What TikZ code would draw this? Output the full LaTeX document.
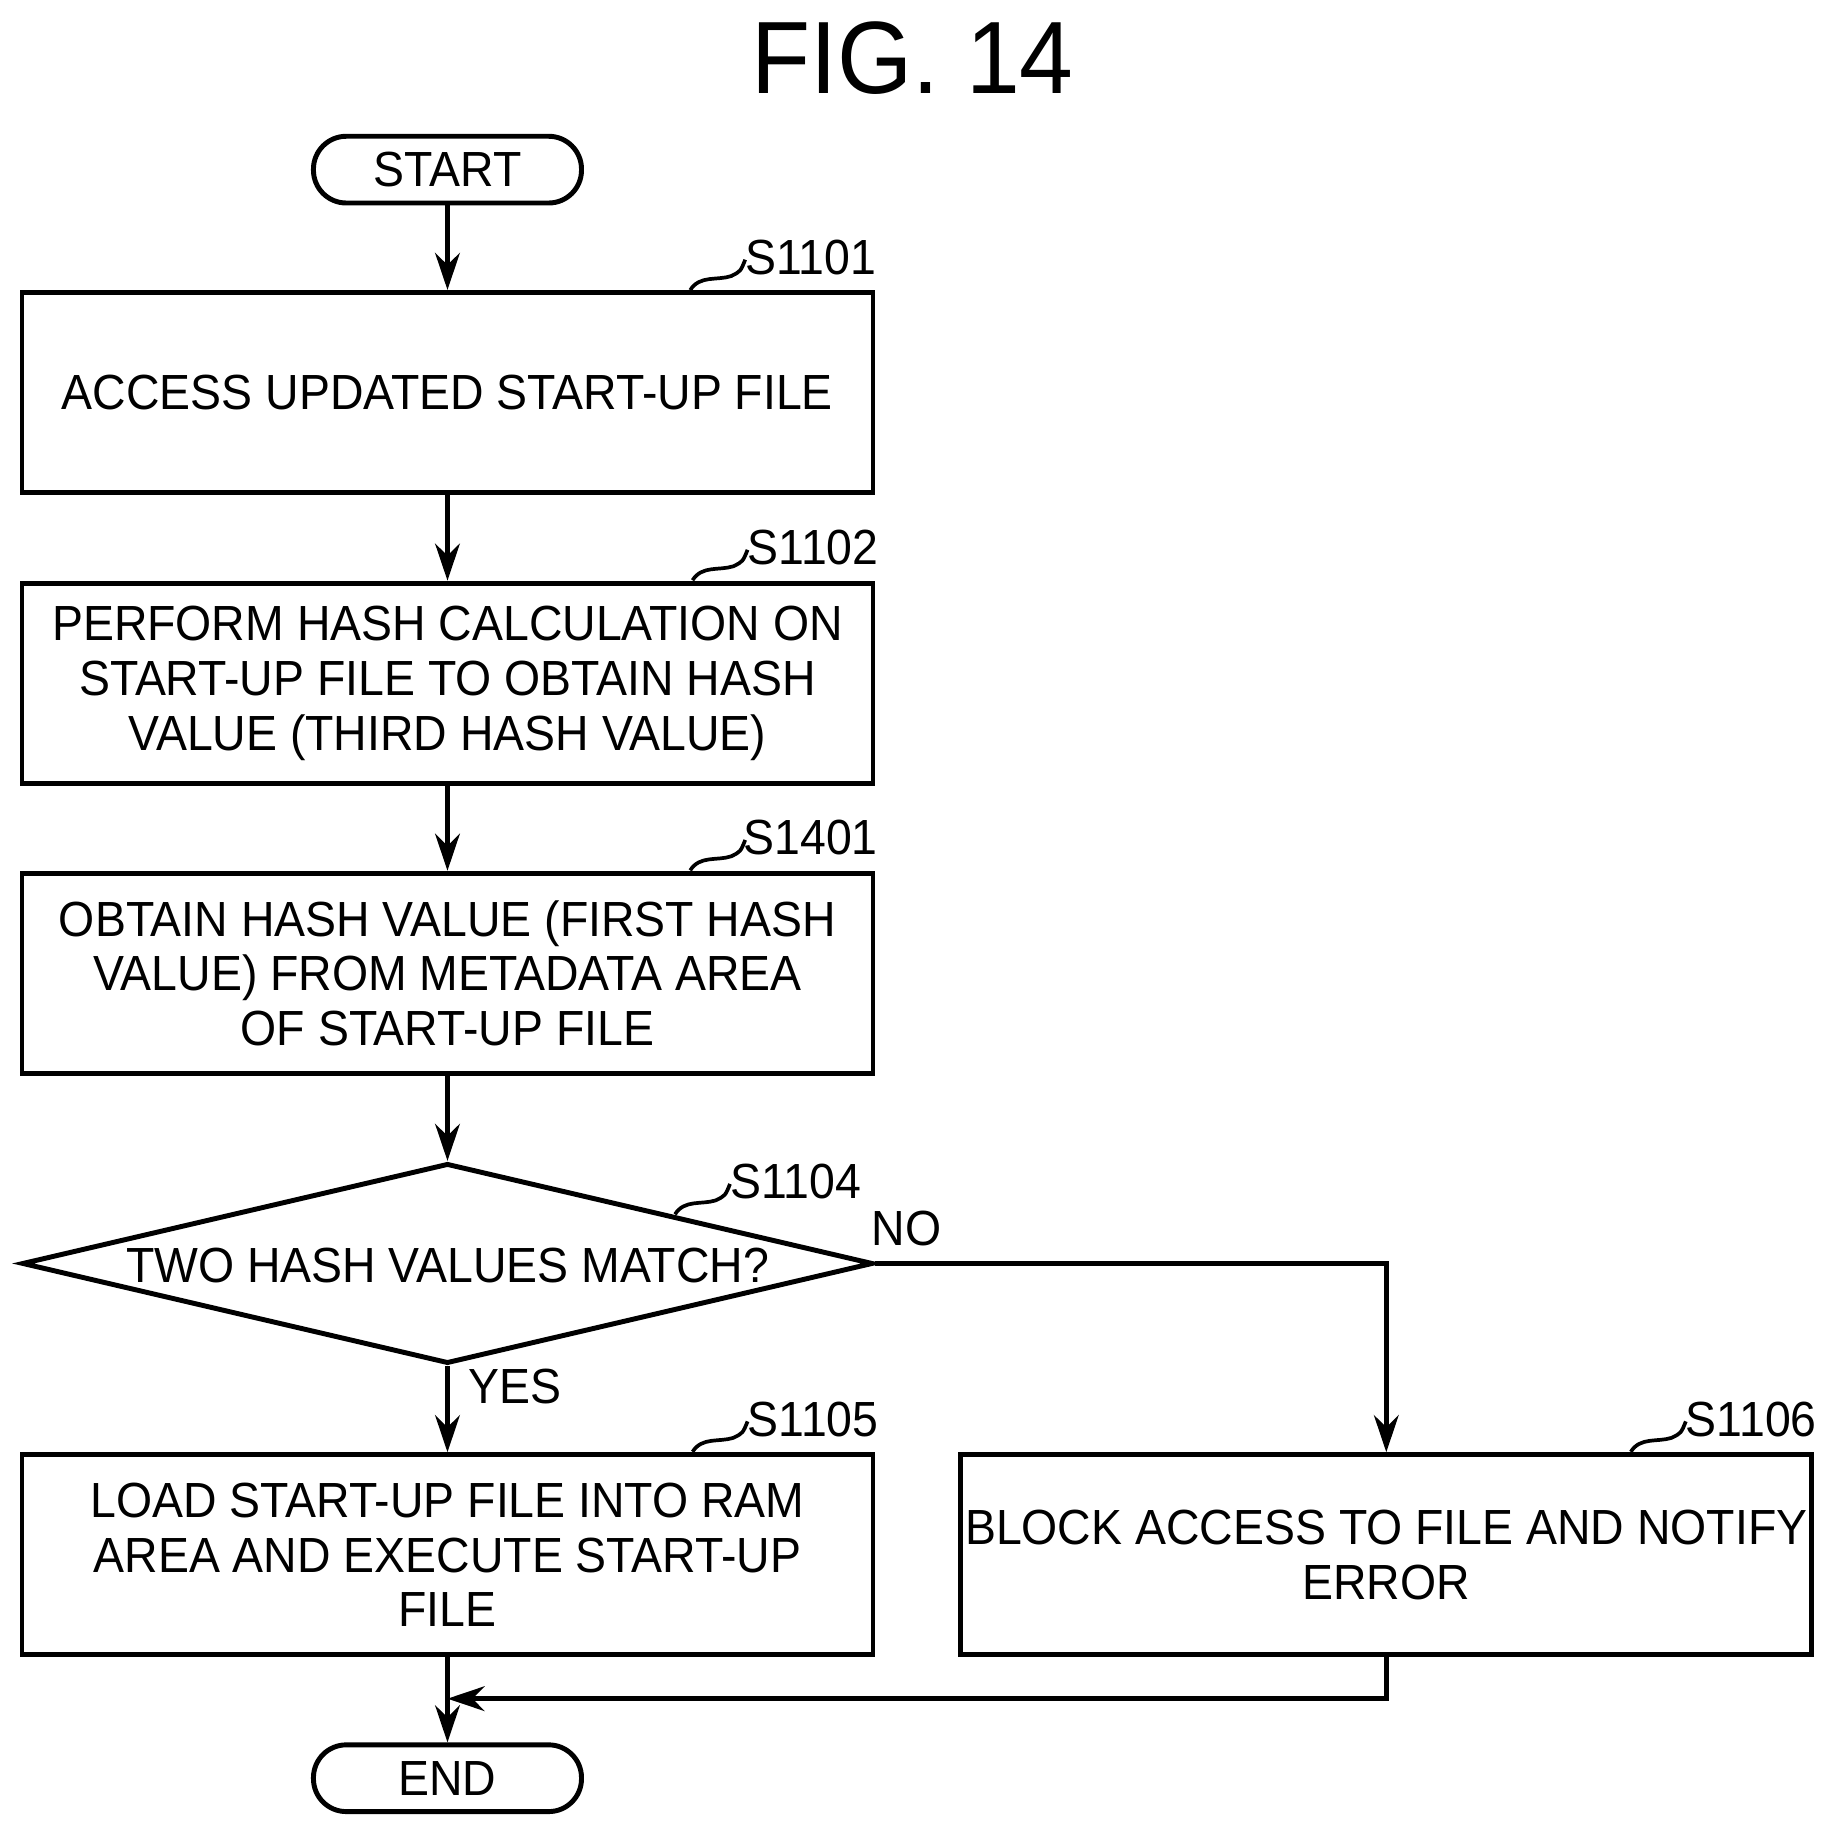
\documentclass[tikz,border=0pt]{standalone}
\usepackage{fontspec}
\setmainfont{Liberation Sans}[FakeStretch=0.94]
\usetikzlibrary{shapes.geometric,arrows.meta}
\begin{document}
\begin{tikzpicture}[x=0.01cm,y=-0.01cm,line width=1.2pt,
 box/.style={draw,minimum width=7.27cm,minimum height=1.71cm,align=center,inner sep=0pt,font=\fontsize{12}{13.3}\selectfont},
 term/.style={draw,rounded corners=0.28cm,minimum width=2.29cm,minimum height=0.57cm,inner sep=0pt,font=\fontsize{12}{14}\selectfont},
 lab/.style={font=\fontsize{12}{14}\selectfont},
 arr/.style={-{Stealth[length=9pt,width=6pt]}}]
\useasboundingbox (0,0) rectangle (1560,1560);
\node[font=\fontsize{25}{28}\selectfont] (title) at (780,50) {FIG. 14};
\node[term] (start) at (382.5,145) {START};
\node[box] (b1) at (382.5,335.5) {ACCESS UPDATED START-UP FILE};
\node[box] (b2) at (382.5,584) {PERFORM HASH CALCULATION ON\\START-UP FILE TO OBTAIN HASH\\VALUE (THIRD HASH VALUE)};
\node[box] (b3) at (382.5,832) {OBTAIN HASH VALUE (FIRST HASH\\VALUE) FROM METADATA AREA\\OF START-UP FILE};
\node[draw,diamond,aspect=4.27,minimum width=7.27cm,minimum height=1.71cm,inner sep=0pt] (d) at (382.5,1080) {};
\node[font=\fontsize{12}{14}\selectfont] (dt) at (382.5,1082) {TWO HASH VALUES MATCH?};
\node[box] (b5) at (382.5,1329) {LOAD START-UP FILE INTO RAM\\AREA AND EXECUTE START-UP\\FILE};
\node[box] (b6) at (1185,1329) {BLOCK ACCESS TO FILE AND NOTIFY\\ERROR};
\node[term] (end) at (382.5,1520) {END};
% step labels
\foreach \n/\x/\y/\t in {l1/693/220/S1101,l2/695/468/S1102,l3/693/716/S1401,l4/680/1010/S1104,l5/695/1213/S1105,l6/1497/1213/S1106}{
  \node[lab] (\n) at (\x,\y) {\t};
  \draw[line width=0.9pt] (\x-103,\y+28) .. controls (\x-95,\y+15) and (\x-80,\y+20) .. (\x-68,\y+16) .. controls (\x-60,\y+12) .. (\x-56,\y+2);
}
\node[lab] (no) at (775,1050) {NO};
\node[lab] (yes) at (440,1185) {YES};
\coordinate (m) at (382.5,1452);
\draw[arr] (start) -- (b1);
\draw[arr] (b1) -- (b2);
\draw[arr] (b2) -- (b3);
\draw[arr] (b3) -- (d.north);
\draw[arr] (d.south) -- (b5);
\draw[arr] (d.east) -| (b6.north);
\draw[arr] (b6.south) |- (m);
\draw[arr] (b5) -- (end);
\end{tikzpicture}
\end{document}
